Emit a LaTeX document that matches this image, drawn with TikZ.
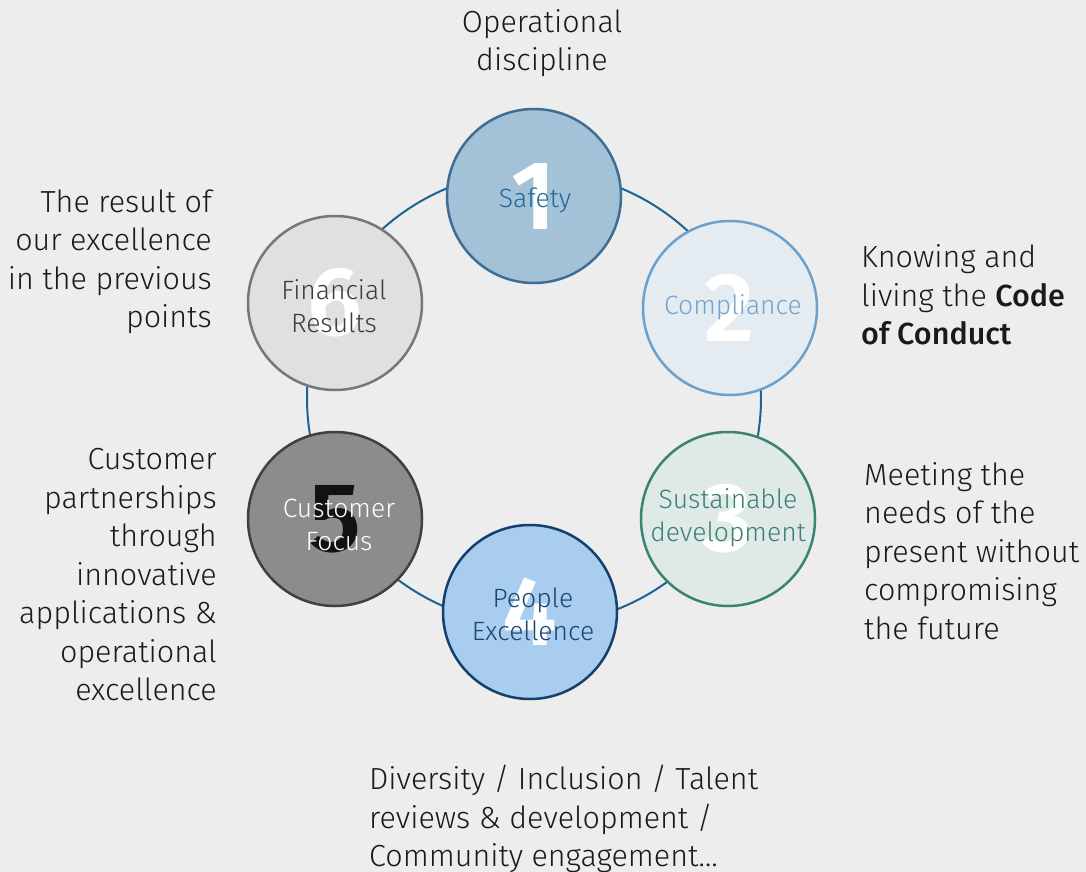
\documentclass[tikz,border=0pt]{standalone}
\usepackage{fontspec}
\setmainfont{Fira Sans}[UprightFont={* Light}, BoldFont={* Medium}]
\newfontfamily\numfont{Fira Sans}[UprightFont={* SemiBold}]
\definecolor{bg}{HTML}{EDEDED}
\definecolor{ringc}{HTML}{1B6493}
\definecolor{txt}{HTML}{1A1A1A}
\definecolor{f1}{HTML}{A3C2D8}\definecolor{d1}{HTML}{3E6E94}\definecolor{t1}{HTML}{1F6A96}
\definecolor{f2}{HTML}{E5ECF1}\definecolor{d2}{HTML}{6BA1CC}\definecolor{t2}{HTML}{6FA5D0}
\definecolor{f3}{HTML}{DFEAE8}\definecolor{d3}{HTML}{3A8470}\definecolor{t3}{HTML}{3A8270}
\definecolor{f4}{HTML}{A9CDEE}\definecolor{d4}{HTML}{13406C}\definecolor{t4}{HTML}{1A4670}
\definecolor{f5}{HTML}{8C8C8C}\definecolor{d5}{HTML}{404040}\definecolor{t5}{HTML}{FFFFFF}
\definecolor{f6}{HTML}{E0E0E0}\definecolor{d6}{HTML}{777777}\definecolor{t6}{HTML}{3C3C3C}
\tikzset{
  bubble/.style={circle, minimum size=174pt, inner sep=0pt, line width=2.5pt,
    font=\numfont\fontsize{98}{98}\selectfont, text=white},
  blabel/.style={align=center, inner sep=0pt, font=\fontsize{26.5}{33}\selectfont},
  side/.style={inner sep=0pt, text=txt, font=\fontsize{30.5}{38.5}\selectfont},
}
\begin{document}
\begin{tikzpicture}[x=1pt,y=-1pt]
\fill[bg] (0,0) rectangle (1086,872);
\useasboundingbox (0,0) rectangle (1086,872);
\coordinate (c) at (534,398);
\draw[ringc, line width=2pt] (c) circle[radius=227];

\node[bubble, fill=f1, draw=d1] (s1) at (534,196) {1};
\node[bubble, fill=f2, draw=d2] (s2) at (730,308) {2};
\node[bubble, fill=f3, draw=d3] (s3) at (728,519) {3};
\node[bubble, fill=f4, draw=d4] (s4) at (530,612) {4};
\node[bubble, fill=f5, draw=d5, text=black!93] (s5) at (335,519) {5};
\node[bubble, fill=f6, draw=d6] (s6) at (335,303) {6};

\node[blabel, text=t1] (l1) at (535,200) {Safety};
\node[blabel, text=t2] (l2) at (733,307) {Compliance};
\node[blabel, text=t3] (l3) at (728,518) {Sustainable\\development};
\node[blabel, text=t4] (l4) at (533,614) {People\\Excellence};
\node[blabel, text=t5] (l5) at (339,525) {Customer\\Focus};
\node[blabel, text=t6] (l6) at (334,306) {Financial\\Results};

\node[side, align=center] (o1) at (542,43) {Operational\\discipline};
\node[side, align=left, anchor=west] (o2) at (861,295) {Knowing and\\living the \textbf{Code}\\\textbf{of Conduct}};
\node[side, align=left, anchor=west] (o3) at (864,551) {Meeting the\\needs of the\\present without\\compromising\\the future};
\node[side, align=left, anchor=west] (o4) at (369,819) {Diversity / Inclusion / Talent\\reviews \& development /\\Community engagement\dots};
\node[side, align=right, anchor=east] (o5) at (217,575) {Customer\\partnerships\\through\\innovative\\applications \&\\operational\\excellence};
\node[side, align=right, anchor=east] (o6) at (212,262) {The result of\\our excellence\\in the previous\\points};
\end{tikzpicture}
\end{document}
